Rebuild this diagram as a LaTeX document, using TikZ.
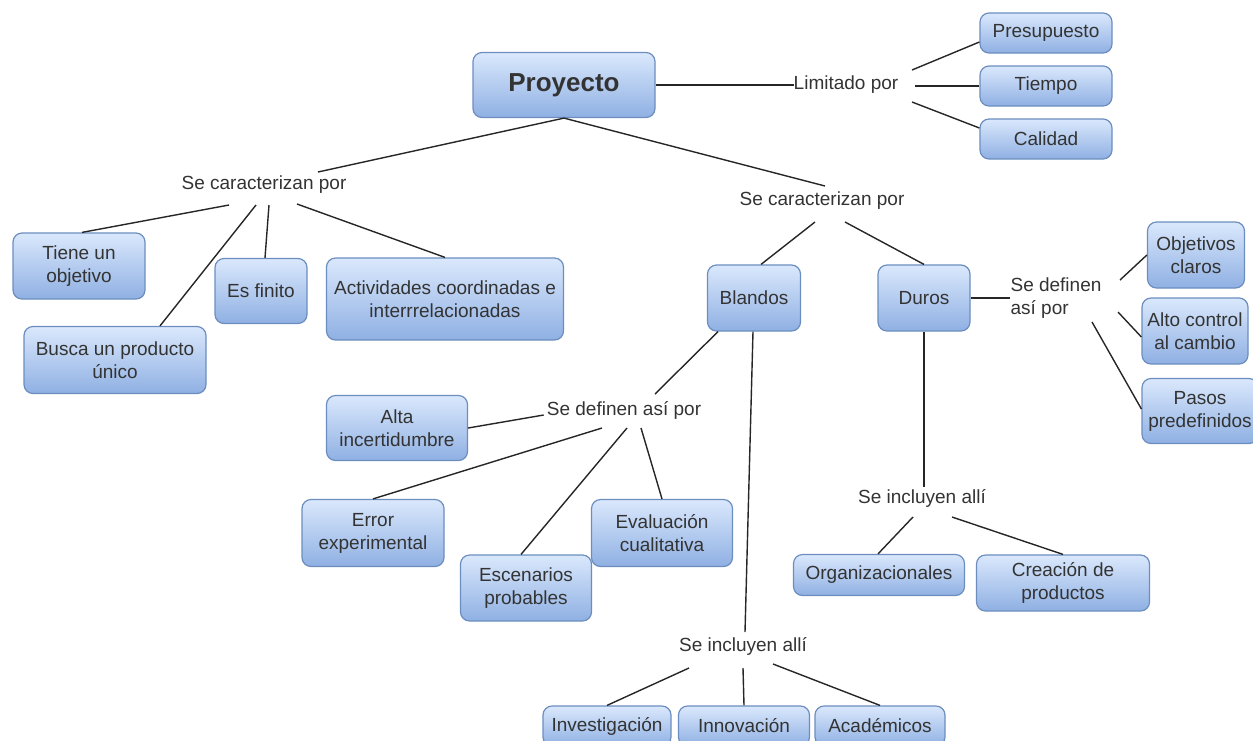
\documentclass[tikz,border=0pt]{standalone}
\usepackage{fontspec}
\setmainfont{Liberation Sans}
\definecolor{cajaarriba}{HTML}{DAE8FC}
\definecolor{cajaabajo}{HTML}{8FB0E3}
\definecolor{cajaborde}{HTML}{6C8EBF}
\definecolor{texto}{HTML}{333333}

\begin{document}
\begin{tikzpicture}[x=1pt,y=-1pt,
		caja/.style={draw=cajaborde,line width=1.2pt,rounded corners=9pt,top color=cajaarriba,bottom color=cajaabajo,align=center,inner sep=2pt,text=texto},
		enlace/.style={align=center,inner sep=0pt,text=texto},
		linea/.style={line width=1.4pt,black!85}]
		\useasboundingbox (0,0) rectangle (1253,740);
		\fontsize{19}{23}\selectfont
		% raiz
		\node[caja,minimum width=182,minimum height=65,font=\fontsize{26}{30}\selectfont\bfseries] (proyecto) at (564,85) {Proyecto};
		\node[enlace] (limitado) at (846,85) {Limitado por};
		\node[caja,minimum width=132,minimum height=40] (presupuesto) at (1046,33) {Presupuesto};
		\node[caja,minimum width=132,minimum height=40] (tiempo) at (1046,86) {Tiempo};
		\node[caja,minimum width=132,minimum height=40] (calidad) at (1046,139) {Calidad};
		% izquierda
		\node[enlace] (carIzq) at (264,185) {Se caracterizan por};
		\node[caja,minimum width=132,minimum height=66] (objetivo) at (79,266) {Tiene un\\objetivo};
		\node[caja,minimum width=182,minimum height=67] (producto) at (115,360) {Busca un producto\\único};
		\node[caja,minimum width=92,minimum height=65] (finito) at (261,291) {Es finito};
		\node[caja,minimum width=237,minimum height=82] (actividades) at (445,299) {Actividades coordinadas e\\interrrelacionadas};
		% derecha
		\node[enlace] (carDer) at (822,201) {Se caracterizan por};
		\node[caja,minimum width=93,minimum height=66] (blandos) at (754,298) {Blandos};
		\node[caja,minimum width=92,minimum height=66] (duros) at (924,298) {Duros};
		\node[enlace,align=left] (defDuros) at (1056,298) {Se definen\\así por};
		\node[caja,minimum width=97,minimum height=66] (claros) at (1196,255) {Objetivos\\claros};
		\node[caja,minimum width=106,minimum height=66] (control) at (1195,331) {Alto control\\al cambio};
		\node[caja,minimum width=116,minimum height=65] (pasos) at (1200,411) {Pasos\\predefinidos};
		% blandos
		\node[enlace] (defBlandos) at (624,410) {Se definen así por};
		\node[caja,minimum width=141,minimum height=65] (alta) at (397,428) {Alta\\incertidumbre};
		\node[caja,minimum width=142,minimum height=67] (error) at (373,533) {Error\\experimental};
		\node[caja,minimum width=131,minimum height=66] (escenarios) at (526,588) {Escenarios\\probables};
		\node[caja,minimum width=141,minimum height=67] (evaluacion) at (662,533) {Evaluación\\cualitativa};
		\node[enlace] (inclBlandos) at (743,646) {Se incluyen allí};
		\node[caja,minimum width=128,minimum height=40] (investigacion) at (607,726) {Investigación};
		\node[caja,minimum width=131,minimum height=40] (innovacion) at (744,726) {Innovación};
		\node[caja,minimum width=130,minimum height=40] (academicos) at (880,726) {Académicos};
		% duros
		\node[enlace] (inclDuros) at (922,498) {Se incluyen allí};
		\node[caja,minimum width=171,minimum height=41] (organizacionales) at (879,575) {Organizacionales};
		\node[caja,minimum width=173,minimum height=56] (creacion) at (1063,583) {Creación de\\productos};

		\draw[linea] (proyecto.east) -- (limitado.west);
		\draw[linea] ([shift={(66,-15)}]limitado.center) -- ([shift={(0,9)}]presupuesto.west);
		\draw[linea] ([shift={(69,1)}]limitado.center) -- (tiempo.west);
		\draw[linea] ([shift={(66,17)}]limitado.center) -- ([shift={(0,-11)}]calidad.west);
		\draw[linea] (proyecto.south) -- ([shift={(54,-13)}]carIzq.center);
		\draw[linea] (proyecto.south) -- ([shift={(3,-15)}]carDer.center);
		\draw[linea] ([shift={(-35,20)}]carIzq.center) -- ([shift={(3,0)}]objetivo.north);
		\draw[linea] ([shift={(-8,20)}]carIzq.center) -- ([shift={(45,0)}]producto.north);
		\draw[linea] ([shift={(5,20)}]carIzq.center) -- ([shift={(4,0)}]finito.north);
		\draw[linea] ([shift={(33,19)}]carIzq.center) -- (actividades.north);
		\draw[linea] ([shift={(-7,21)}]carDer.center) -- ([shift={(7,0)}]blandos.north);
		\draw[linea] ([shift={(23,21)}]carDer.center) -- (duros.north);
		\draw[linea] (duros.east) -- (defDuros.west);
		\draw[linea] ([shift={(64,-18)}]defDuros.center) -- (claros.west);
		\draw[linea] ([shift={(62,14)}]defDuros.center) -- ([shift={(0,6)}]control.west);
		\draw[linea] ([shift={(36,24)}]defDuros.center) -- ([shift={(0,-2)}]pasos.west);
		\draw[linea] ([shift={(-36,0)}]blandos.south) -- ([shift={(31,-16)}]defBlandos.center);
		\draw[linea] ([shift={(-1,0)}]blandos.south) -- ([shift={(2,-14)}]inclBlandos.center);
		\draw[linea] (alta.east) -- ([shift={(-3,5)}]defBlandos.west);
		\draw[linea] ([shift={(-22,18)}]defBlandos.center) -- (error.north);
		\draw[linea] ([shift={(3,18)}]defBlandos.center) -- ([shift={(-5,0)}]escenarios.north);
		\draw[linea] ([shift={(17,18)}]defBlandos.center) -- (evaluacion.north);
		\draw[linea] ([shift={(-54,22)}]inclBlandos.center) -- (investigacion.north);
		\draw[linea] ([shift={(0,22)}]inclBlandos.center) -- (innovacion.north);
		\draw[linea] ([shift={(30,18)}]inclBlandos.center) -- (academicos.north);
		\draw[linea] (duros.south) -- ([shift={(2,-11)}]inclDuros.center);
		\draw[linea] ([shift={(-9,19)}]inclDuros.center) -- ([shift={(-1,0)}]organizacionales.north);
		\draw[linea] ([shift={(30,19)}]inclDuros.center) -- (creacion.north);
	\end{tikzpicture}
\end{document}
